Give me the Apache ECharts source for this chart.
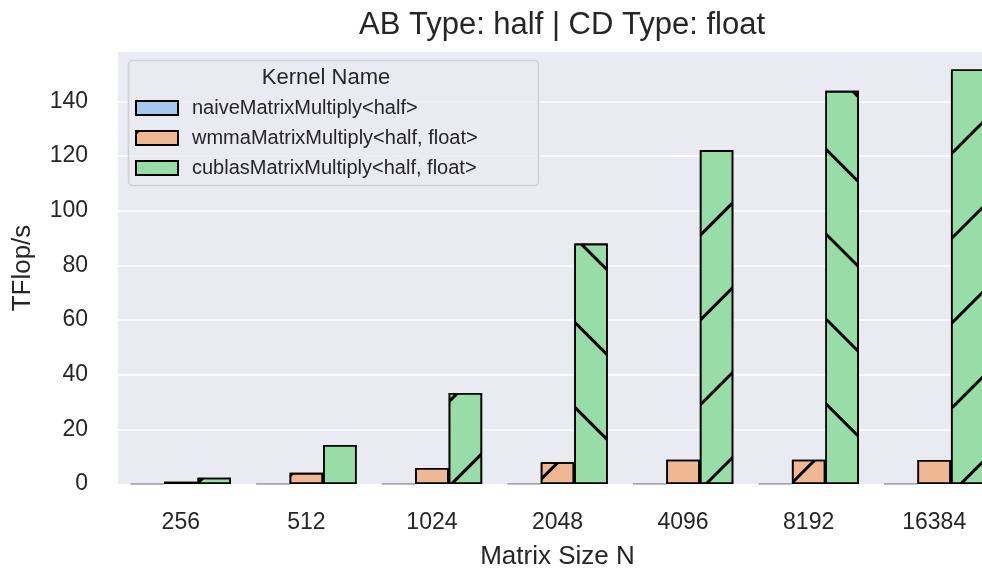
<!DOCTYPE html>
<html>
<head>
<meta charset="utf-8">
<script src="https://cdn.jsdelivr.net/npm/echarts@6/dist/echarts.min.js"></script>
<style>
html,body{margin:0;padding:0;background:#fff;overflow:hidden;width:982px;height:575px;}
#chart{width:1000px;height:575px;}
</style>
</head>
<body>
<div id="chart"></div>
<script>
const categories = ['256', '512', '1024', '2048', '4096', '8192', '16384'];
const seriesNames = ['naiveMatrixMultiply<half>', 'wmmaMatrixMultiply<half, float>', 'cublasMatrixMultiply<half, float>'];
const naiveValues = [0.02, 0.05, 0.08, 0.1, 0.1, 0.1, 0.1];
const wmmaValues = [0.8, 4.1, 5.9, 8.0, 8.9, 8.9, 8.8];
const cublasValues = [2.3, 14.3, 33.3, 88.0, 122.2, 143.9, 151.7];
const yTicks = [0, 20, 40, 60, 80, 100, 120, 140];

const colors = ['#a7c8ee', '#f0b892', '#98dca8'];
const FONT = 'Liberation Sans, Arial, sans-serif';
const TXT = '#262626';

function hatch(dir) {
  return {
    symbol: 'rect',
    symbolSize: 1,
    color: '#000',
    dashArrayX: [1, 0],
    dashArrayY: [3, 57],
    rotation: dir === '/' ? -Math.PI / 4 : Math.PI / 4
  };
}
// hatch pattern alternates over the patch order (series-major)
function hatchFor(seriesIdx, catIdx) {
  const k = seriesIdx * categories.length + catIdx;
  return k % 2 === 0 ? '/' : '\\';
}

const seriesData = [naiveValues, wmmaValues, cublasValues];
const series = seriesData.map((vals, si) => ({
  name: seriesNames[si],
  type: 'bar',
  barGap: '0%',
  barCategoryGap: '20%',
  itemStyle: Object.assign({
    color: colors[si],
    borderColor: '#000',
    borderWidth: 1.6
  }, si === 1 ? {decal: hatch('/')} : {}),
  emphasis: {disabled: true},
  data: vals.map((v, ci) => {
    const item = {value: v, itemStyle: {}};
    if (si === 0) {
      item.itemStyle.borderColor = '#9a9a9a';
      item.itemStyle.borderWidth = 1;
    } else {
      item.itemStyle.decal = hatch(hatchFor(si, ci));
    }
    return item;
  })
}));

const chart = echarts.init(document.getElementById('chart'), null, {renderer: 'canvas', width: 1000, height: 575});
chart.setOption({
  animation: false,
  backgroundColor: '#ffffff',
  title: {
    text: 'AB Type: half | CD Type: float',
    left: 557,
    top: 5,
    textAlign: 'center',
    textStyle: {fontFamily: FONT, fontSize: 31, fontWeight: 'normal', color: TXT}
  },
  grid: {
    left: 118, top: 52, width: 879, height: 434,
    show: true, backgroundColor: '#eaeaf2', borderWidth: 0,
    containLabel: false
  },
  xAxis: {
    type: 'category',
    data: categories,
    name: 'Matrix Size N',
    nameLocation: 'middle',
    nameGap: 60,
    nameTextStyle: {fontFamily: FONT, fontSize: 26, color: TXT},
    axisLine: {show: false},
    axisTick: {show: false},
    axisLabel: {fontFamily: FONT, fontSize: 23, color: TXT, margin: 27},
    splitLine: {show: false}
  },
  yAxis: {
    type: 'value',
    min: 0,
    max: 158.1,
    interval: 20,
    name: 'TFlop/s',
    nameLocation: 'middle',
    nameGap: 82,
    nameTextStyle: {fontFamily: FONT, fontSize: 26, color: TXT},
    axisLine: {show: false},
    axisTick: {show: false},
    axisLabel: {
      fontFamily: FONT, fontSize: 23, color: TXT, margin: 30,
      showMaxLabel: false,
      formatter: v => (yTicks.indexOf(v) >= 0 ? String(v) : '')
    },
    splitLine: {show: true, showMinLine: false, showMaxLine: false, lineStyle: {color: '#ffffff', width: 1.6}}
  },
  legend: {
    orient: 'vertical',
    left: 135,
    top: 97,
    padding: 0,
    itemGap: 8,
    itemWidth: 42,
    itemHeight: 14,
    icon: 'rect',
    z: 20,
    selectedMode: false,
    textStyle: {fontFamily: FONT, fontSize: 20, color: TXT, lineHeight: 22, padding: [0, 0, 0, 9]},
    data: seriesNames
  },
  graphic: [
    {
      type: 'rect',
      z: 10,
      shape: {x: 128.5, y: 60.5, width: 410, height: 125, r: 4},
      style: {fill: 'rgba(234,234,242,0.85)', stroke: '#cfcfd4', lineWidth: 1.5}
    },
    {
      type: 'text',
      z: 11,
      x: 326,
      y: 78,
      style: {text: 'Kernel Name', fontFamily: FONT, fontSize: 22, fill: TXT, align: 'center', verticalAlign: 'middle'}
    }
  ],
  series: series
});
</script>
</body>
</html>
